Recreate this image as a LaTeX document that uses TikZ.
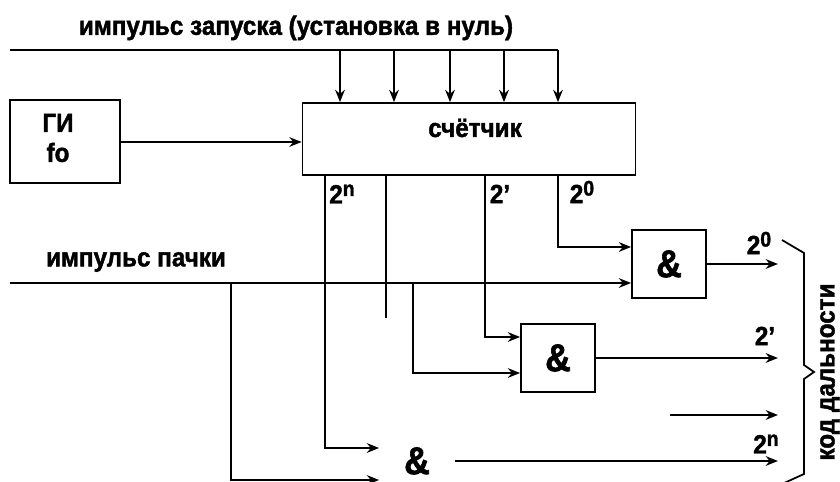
\documentclass[tikz,border=0pt]{standalone}
\usepackage{fontspec}
\newfontfamily\heavy{Liberation Sans}[FakeStretch=0.92, FakeBold=1.6]
\usetikzlibrary{arrows.meta, positioning}

\newcommand{\pw}[1]{2\raisebox{.55ex}{\fontsize{12}{12}\selectfont #1}}

\begin{document}
\begin{tikzpicture}[
    x=0.02cm, y=-0.02cm,
    >={Stealth[length=7pt,width=5.5pt]},
    every node/.style={font=\heavy\bfseries\fontsize{15}{17}\selectfont},
    wire/.style={line width=1pt},
    blk/.style={draw, line width=1pt, inner sep=0pt},
    gate/.style={blk, minimum width=1.48cm, minimum height=1.36cm,
        font=\heavy\bfseries\fontsize{22}{23}\selectfont},
]
    \useasboundingbox (0,0) rectangle (840,482);

    \node[blk, minimum width=2.2cm, minimum height=1.66cm] (gen) at (65,141.5) {};
    \node[align=center] (gentxt) at (58,138) {ГИ\\fo};
    \node[blk, minimum width=6.66cm, minimum height=1.44cm] (cnt) at (469,139) {};
    \node (cnttxt) at (475,128) {счётчик};
    \node[gate] (and0) at (669,264) {\&};
    \node[gate] (and1) at (558,358) {\&};
    \node[gate, draw=none] (andn) at (417,461) {\&};

    \node (start) at (296,28) {импульс запуска (установка в нуль)};
    \node (burst) at (136,262) {импульс пачки};

    % reset line over the counter
    \coordinate (r0) at (10,50);
    \draw[wire] (r0) -- (558,50);
    \foreach \x [count=\i] in {340,394,450,504,558} {
        \coordinate (r\i) at (\x,50);
        \draw[wire,->] (r\i) -- (r\i |- cnt.north);
    }

    % generator -> counter
    \draw[wire,->] (gen.east |- 0,142) -- (cnt.west |- 0,142);

    % counter outputs
    \coordinate (qn) at (325,175);
    \coordinate (qs) at (386,175);
    \coordinate (q1) at (485,175);
    \coordinate (q0) at (558,175);
    \node (qnl) at (342,194) {\pw{n}};
    \node (q1l) at (500,194) {2’};
    \node (q0l) at (582,192) {\pw{0}};

    \draw[wire,->] (q0) |- ([yshift=3.4mm]and0.west);
    \draw[wire,->] (q1) |- ([yshift=4.2mm]and1.west);
    \draw[wire] (qs) -- (386,318);
    \draw[wire,->] (qn) |- ([yshift=2.6mm]andn.west);

    % burst pulse line
    \coordinate (b0) at (10,283);
    \coordinate (b1) at (231,283);
    \coordinate (b2) at (413,283);
    \draw[wire,->] (b0) -- (b0 -| and0.west);
    \draw[wire,->] (b1) |- ([yshift=-3.8mm]andn.west);
    \draw[wire,->] (b2) |- ([yshift=-3mm]and1.west);

    % range code outputs
    \coordinate (ox) at (778,0);
    \coordinate (d) at (670,415);
    \draw[wire,->] (and0.east) -- (and0.east -| ox);
    \draw[wire,->] (and1.east) -- (and1.east -| ox);
    \draw[wire,->] (d) -- (d -| ox);
    \draw[wire,->] (andn.east) -- (andn.east -| ox);
    \node (o0l) at (759,243) {\pw{0}};
    \node (o1l) at (765,336) {2’};
    \node (onl) at (766,444) {\pw{n}};

    % brace
    \draw[wire] (782,240) -- (804,253) -- (804,365) -- (814,372) -- (804,379)
        -- (804,474) -- (782,484);
    \node[rotate=90] (code) at (830,372) {код дальности};

\end{tikzpicture}
\end{document}
